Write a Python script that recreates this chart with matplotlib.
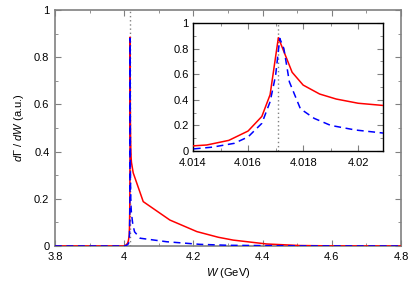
import numpy as np
import matplotlib
matplotlib.use("Agg")
import matplotlib.pyplot as plt
from matplotlib.ticker import MultipleLocator

plt.rcParams['font.family'] = ['Liberation Sans', 'DejaVu Sans']
plt.rcParams['mathtext.fontset'] = 'custom'
plt.rcParams['mathtext.rm'] = 'Liberation Sans'
plt.rcParams['mathtext.it'] = 'Liberation Sans:italic'

# threshold position (GeV)
w_thr = 4.0171

# red solid curve
w_red = [3.8, 3.9, 4.0, 4.005, 4.010, 4.012, 4.014, 4.0145, 4.0153, 4.0160,
         4.0165, 4.0168, 4.0171, 4.0176, 4.0180, 4.0186, 4.0192, 4.0200,
         4.0210, 4.026, 4.055, 4.132, 4.21, 4.272, 4.315, 4.412, 4.508,
         4.6, 4.7, 4.8]
g_red = [0.0, 0.0, 0.0, 0.004, 0.012, 0.022, 0.040, 0.047, 0.083, 0.156,
         0.27, 0.44, 0.885, 0.615, 0.515, 0.445, 0.406, 0.373,
         0.354, 0.31, 0.188, 0.11, 0.061, 0.037, 0.025, 0.0085, 0.002,
         0.0005, 0.0001, 0.0]

# blue dashed curve
w_blue = [3.8, 3.9, 4.0, 4.005, 4.010, 4.012, 4.014, 4.0147, 4.0155, 4.0160,
          4.0165, 4.0168, 4.0170, 4.01715, 4.0173, 4.0175, 4.0179, 4.0184,
          4.0190, 4.0199, 4.0210, 4.025, 4.030, 4.046, 4.123, 4.219, 4.3,
          4.5, 4.8]
g_blue = [0.0, 0.0, 0.0, 0.002, 0.006, 0.010, 0.016, 0.030, 0.060, 0.110,
          0.216, 0.385, 0.59, 0.88, 0.80, 0.54, 0.33, 0.255,
          0.20, 0.164, 0.138, 0.09, 0.06, 0.033, 0.018, 0.007, 0.003,
          0.0005, 0.0]

x_ticks = [3.8, 4.0, 4.2, 4.4, 4.6, 4.8]
x_labels = ['3.8', '4', '4.2', '4.4', '4.6', '4.8']
y_ticks = [0, 0.2, 0.4, 0.6, 0.8, 1.0]
y_labels = ['0', '0.2', '0.4', '0.6', '0.8', '1']
xi_ticks = [4.014, 4.016, 4.018, 4.020]
xi_labels = ['4.014', '4.016', '4.018', '4.02']

fig = plt.figure(figsize=(4.15, 2.82), dpi=100)
ax = fig.add_axes([55/415, 36/282, 346/415, 236/282])

gray = '#808080'
ax.axvline(w_thr, color=gray, ls=(0, (1, 2)), lw=1.0, zorder=1)
ax.plot(w_red, g_red, color='#ff0000', lw=1.1, zorder=3)
ax.plot(w_blue, g_blue, color='#0000ff', lw=1.1, ls=(0, (4.5, 3)), zorder=4)
ax.set_xlim(3.8, 4.8)
ax.set_ylim(0, 1)
ax.set_xticks(x_ticks)
ax.set_xticklabels(x_labels)
ax.set_yticks(y_ticks)
ax.set_yticklabels(y_labels)
ax.xaxis.set_minor_locator(MultipleLocator(0.1))
ax.yaxis.set_minor_locator(MultipleLocator(0.1))
ax.tick_params(which='both', direction='in', top=True, right=True,
               color=gray, labelsize=8, pad=4)
ax.tick_params(which='major', length=4)
ax.tick_params(which='minor', length=2)
for s in ax.spines.values():
    s.set_color(gray)
    s.set_linewidth(1.2)
ax.set_xlabel(r'$W$ (GeV)', fontsize=8, labelpad=3)
ax.set_ylabel(r'$d\mathit{\Gamma}\ /\ dW$ (a.u.)', fontsize=8, labelpad=6)

# inset
axi = fig.add_axes([193/415, 131/282, 190/415, 128/282])
axi.axvline(w_thr, color=gray, ls=(0, (1, 2)), lw=1.0, zorder=1)
axi.plot(w_red, g_red, color='#ff0000', lw=1.1, zorder=3)
axi.plot(w_blue, g_blue, color='#0000ff', lw=1.1, ls=(0, (4.5, 3)), zorder=4)
axi.set_xlim(4.014, 4.0209)
axi.set_ylim(0, 1)
axi.set_xticks(xi_ticks)
axi.set_xticklabels(xi_labels)
axi.set_yticks(y_ticks)
axi.set_yticklabels(y_labels)
axi.xaxis.set_minor_locator(MultipleLocator(0.001))
axi.yaxis.set_minor_locator(MultipleLocator(0.1))
axi.tick_params(which='both', direction='in', top=True, right=True,
                color=gray, labelsize=8, pad=3)
axi.tick_params(axis='x', pad=5)
axi.tick_params(which='major', length=4)
axi.tick_params(which='minor', length=2)
for s in axi.spines.values():
    s.set_color('black')
    s.set_linewidth(1.0)

fig.savefig('out.png', dpi=100)
